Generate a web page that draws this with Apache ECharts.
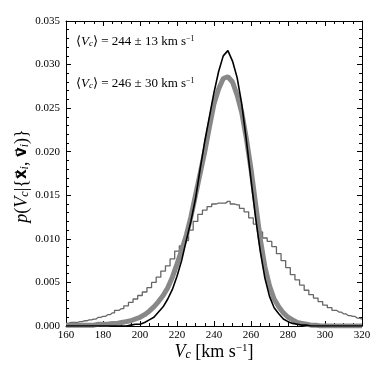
<!DOCTYPE html>
<html>
<head>
<meta charset="utf-8">
<script src="https://cdn.jsdelivr.net/npm/echarts@6/dist/echarts.min.js"></script>
<style>
  html, body { margin: 0; padding: 0; background: #fff; }
  #chart { width: 382px; height: 382px; }
</style>
</head>
<body>
<div id="chart"></div>
<script>
// bin centres (km/s)
const vc = [];
for (let v = 160; v <= 320; v += 2.5) vc.push(v);

// wide posterior (thin gray histogram), <Vc> = 246 +- 30
const wideP = [
  0.0003, 0.0004, 0.0004, 0.0005, 0.0006, 0.0007, 0.0008, 0.0010, 0.0011, 0.0013,
  0.0015, 0.0018, 0.0020, 0.0023, 0.0027, 0.0031, 0.0035, 0.0039, 0.0044, 0.0050,
  0.0056, 0.0063, 0.0069, 0.0077, 0.0086, 0.0092, 0.0098, 0.0110, 0.0120, 0.0128,
  0.0133, 0.0137, 0.0140, 0.0141, 0.0141, 0.0143, 0.0140, 0.0139, 0.0135, 0.0131,
  0.0124, 0.0117, 0.0108, 0.0101, 0.0097, 0.0091, 0.0083, 0.0075, 0.0067, 0.0059,
  0.0053, 0.0047, 0.0041, 0.0036, 0.0032, 0.0028, 0.0024, 0.0021, 0.0018, 0.0016,
  0.0014, 0.0012, 0.0011, 0.0009, 0.0008
];

// thick gray posterior
const grayP = [
  0.0001, 0.0001, 0.0001, 0.0001, 0.0001, 0.0001, 0.0001, 0.0002, 0.0002, 0.0002,
  0.0003, 0.0003, 0.0004, 0.0005, 0.0006, 0.0008, 0.0010, 0.0013, 0.0017, 0.0022,
  0.0028, 0.0035, 0.0044, 0.0056, 0.0071, 0.0087, 0.0104, 0.0125, 0.0150, 0.0175,
  0.0200, 0.0228, 0.0255, 0.0272, 0.0284, 0.0286, 0.0280, 0.0265, 0.0245, 0.0215,
  0.0180, 0.0140, 0.0100, 0.0068, 0.0046, 0.0031, 0.0022, 0.0015, 0.0010, 0.0007,
  0.0004, 0.0003, 0.0002, 0.0001, 0.0001, 0, 0, 0, 0, 0,
  0, 0, 0, 0, 0
];

// narrow posterior (black), <Vc> = 244 +- 13
const blackP = [
  0, 0, 0, 0, 0, 0, 0, 0, 0, 0,
  0, 0, 0, 0, 0.0001, 0.0002, 0.0002, 0.0004, 0.0007, 0.0010,
  0.0016, 0.0022, 0.0031, 0.0042, 0.0057, 0.0075, 0.0098, 0.0120, 0.0146, 0.0180,
  0.0212, 0.0240, 0.0268, 0.0292, 0.0310, 0.0316, 0.0304, 0.0285, 0.0255, 0.0213,
  0.0168, 0.0124, 0.0086, 0.0055, 0.0034, 0.0021, 0.0014, 0.0008, 0.0005, 0.0003,
  0.0002, 0.0001, 0.0001, 0, 0, 0, 0, 0, 0, 0,
  0, 0, 0, 0, 0
];

const xTicks = [160, 180, 200, 220, 240, 260, 280, 300, 320];
const yTicks = [0, 0.005, 0.010, 0.015, 0.020, 0.025, 0.030, 0.035];

const pairs = arr => vc.map((v, i) => [v, arr[i]]);
const font = 'Liberation Serif';

const rich = {
  n: { fontFamily: font, fontSize: 18, color: '#000' },
  it: { fontFamily: font, fontSize: 18, fontStyle: 'italic', color: '#000' },
  b: { fontFamily: 'DejaVu Sans', fontSize: 15, fontWeight: 'bold', color: '#000' },
  sub: { fontFamily: font, fontSize: 12, fontStyle: 'italic', color: '#000', verticalAlign: 'bottom', lineHeight: 12 },
  sup: { fontFamily: font, fontSize: 11, color: '#000', verticalAlign: 'top', lineHeight: 11 }
};

function annRich(color) {
  return {
    n: { fontFamily: font, fontSize: 13, color: color },
    it: { fontFamily: font, fontSize: 13, fontStyle: 'italic', color: color },
    sub: { fontFamily: font, fontSize: 9, fontStyle: 'italic', color: color, verticalAlign: 'bottom', lineHeight: 9 },
    sup: { fontFamily: font, fontSize: 8, color: color, verticalAlign: 'top', lineHeight: 8 }
  };
}

const axisCommon = {
  type: 'value',
  axisLine: { show: true, onZero: false, lineStyle: { color: '#000', width: 1 } },
  axisTick: { show: true, inside: true, length: 5, lineStyle: { color: '#000' } },
  splitLine: { show: false }
};
const xMinor = { show: true, splitNumber: 4, length: 3, lineStyle: { color: '#000' } };
const yMinor = { show: true, splitNumber: 5, length: 3, lineStyle: { color: '#000' } };

const chart = echarts.init(document.getElementById('chart'));
chart.setOption({
  animation: false,
  backgroundColor: '#fff',
  grid: { left: 66, right: 20, top: 21, bottom: 56 },
  xAxis: [
    Object.assign({}, axisCommon, {
      min: xTicks[0], max: xTicks[xTicks.length - 1], interval: 20, position: 'bottom',
      minorTick: xMinor,
      axisLabel: { fontFamily: font, fontSize: 11, color: '#000', margin: 4 }
    }),
    Object.assign({}, axisCommon, {
      min: xTicks[0], max: xTicks[xTicks.length - 1], interval: 20, position: 'top',
      minorTick: xMinor,
      axisLabel: { show: false }
    })
  ],
  yAxis: [
    Object.assign({}, axisCommon, {
      min: yTicks[0], max: yTicks[yTicks.length - 1], interval: 0.005, position: 'left',
      minorTick: yMinor,
      axisLabel: { fontFamily: font, fontSize: 11, color: '#000', margin: 6, formatter: v => v.toFixed(3) }
    }),
    Object.assign({}, axisCommon, {
      min: yTicks[0], max: yTicks[yTicks.length - 1], interval: 0.005, position: 'right',
      minorTick: yMinor,
      axisLabel: { show: false }
    })
  ],
  series: [
    {
      type: 'line', step: 'middle', data: pairs(wideP), symbol: 'none',
      lineStyle: { color: '#666', width: 1.3 }, z: 2
    },
    {
      type: 'line', data: pairs(grayP), symbol: 'none',
      lineStyle: { color: '#888', width: 5 }, z: 3
    },
    {
      type: 'line', data: pairs(blackP), symbol: 'none',
      lineStyle: { color: '#000', width: 1.6 }, z: 4
    }
  ],
  graphic: [
    {
      type: 'text', left: 76, top: 35,
      style: {
        text: '{n|⟨}{it|V}{sub|c}{n|⟩ = 244 ± 13 km s}{sup|−1}',
        rich: annRich('#000')
      }
    },
    {
      type: 'text', left: 76, top: 77,
      style: {
        text: '{n|⟨}{it|V}{sub|c}{n|⟩ = 246 ± 30 km s}{sup|−1}',
        rich: annRich('#888')
      }
    },
    {
      type: 'text', x: 214, y: 352,
      style: {
        text: '{it|V}{sub|c}{n| [km s}{sup|−1}{n|]}',
        rich: rich, align: 'center', verticalAlign: 'middle'
      }
    },
    {
      type: 'text', x: 22, y: 176, rotation: Math.PI / 2,
      style: {
        text: '{it|p}{n|(}{it|V}{sub|c}{n||{}{b|x\u20D7}{sub|i}{n|, }{b|v\u20D7}{sub|i}{n|\u007D)}',
        fontFamily: font, fontSize: 18, fill: '#000',
        rich: rich, align: 'center', verticalAlign: 'middle'
      }
    }
  ]
});
</script>
</body>
</html>
